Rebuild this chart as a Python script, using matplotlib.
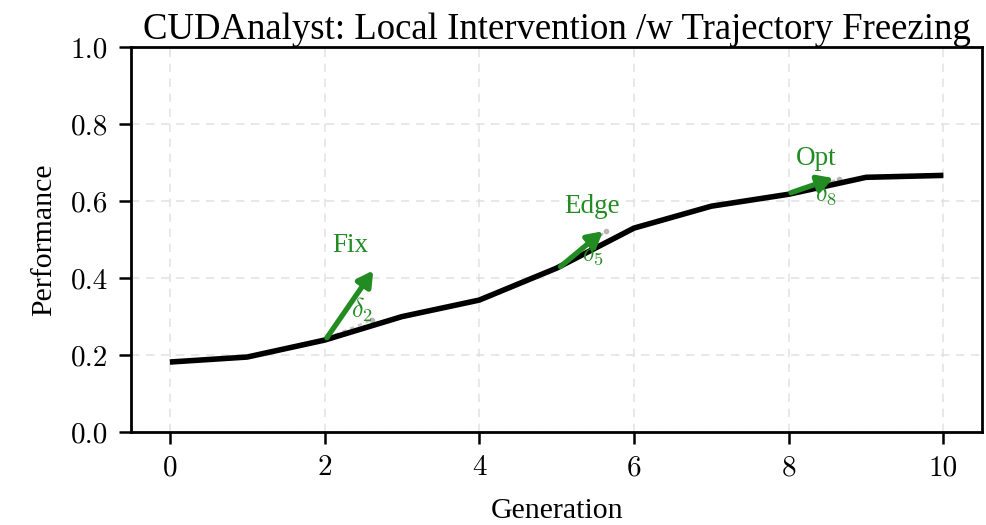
import matplotlib
matplotlib.use("Agg")
import matplotlib.pyplot as plt

# ---- data -----------------------------------------------------------------
generations = [0, 1, 2, 3, 4, 5, 6, 7, 8, 9, 10]
performance = [0.182, 0.195, 0.239, 0.300, 0.343, 0.426, 0.530, 0.587, 0.618, 0.662, 0.667]

# interventions: arrow start / tip, faint "frozen" end point
iv_names = ["Fix", "Edge", "Opt"]
iv_deltas = [r"$\delta_2$", r"$\delta_5$", r"$\delta_8$"]
iv_start_x = [2.03, 5.05, 8.03]
iv_start_y = [0.245, 0.430, 0.622]
iv_tip_x = [2.63, 5.60, 8.58]
iv_tip_y = [0.420, 0.522, 0.660]
iv_frozen_x = [2.62, 5.64, 8.65]
iv_frozen_y = [0.292, 0.522, 0.657]
# label positions (name above, delta beside the arrow)
iv_name_x = [2.34, 5.46, 8.36]
iv_name_y = [0.484, 0.585, 0.712]
iv_delta_x = [2.48, 5.47, 8.48]
iv_delta_y = [0.317, 0.466, 0.620]

xticks = [0, 2, 4, 6, 8, 10]
yticks = [0.0, 0.2, 0.4, 0.6, 0.8, 1.0]

GREEN = "#228B22"

plt.rcParams["font.family"] = ["Liberation Serif", "DejaVu Serif"]
plt.rcParams["mathtext.fontset"] = "cm"

fig = plt.figure(figsize=(9.86, 5.25), dpi=100)
ax = fig.add_axes([0.133, 0.177, 0.863, 0.733])

ax.plot(generations, performance, color="black", lw=4.0, zorder=3,
        solid_capstyle="butt")

for i in range(len(iv_names)):
    # faint frozen-trajectory segment under the arrow
    ax.plot([iv_start_x[i], iv_frozen_x[i]], [iv_start_y[i], iv_frozen_y[i]],
            color="#aaaaaa", lw=1.5, ls=(0, (2, 2)), alpha=0.7, zorder=2)
    ax.plot(iv_frozen_x[i], iv_frozen_y[i], "o", color="#aaaaaa", ms=3,
            alpha=0.8, zorder=2)
    ax.annotate("", xy=(iv_tip_x[i], iv_tip_y[i]),
                xytext=(iv_start_x[i], iv_start_y[i]),
                arrowprops=dict(arrowstyle="-|>,head_length=0.9,head_width=0.5",
                                color=GREEN, lw=3.8, shrinkA=0, shrinkB=0),
                zorder=4)
    ax.text(iv_name_x[i], iv_name_y[i], iv_names[i], color=GREEN,
            fontsize=19.5, ha="center", va="center", zorder=5)
    ax.text(iv_delta_x[i], iv_delta_y[i], iv_deltas[i], color=GREEN,
            fontsize=19, ha="center", va="center", zorder=5)

ax.set_xlim(-0.5, 10.5)
ax.set_ylim(0.0, 1.0)
ax.set_xticks(xticks)
ax.set_xticklabels([f"{v}" for v in xticks], fontfamily="cmr10")
ax.set_yticks(yticks)
ax.set_yticklabels([f"{v:.1f}" for v in yticks], fontfamily="cmr10")
ax.grid(True, color="#dddddd", ls=(0, (5, 4)), lw=1.2, alpha=0.8)
ax.set_axisbelow(True)

for s in ax.spines.values():
    s.set_linewidth(2.0)
ax.tick_params(axis="both", labelsize=21, length=8.5, width=1.8,
               direction="out", pad=8)

ax.set_xlabel("Generation", fontsize=21.5, labelpad=12)
ax.set_ylabel("Performance", fontsize=21.5, labelpad=10)
ax.set_title("CUDAnalyst: Local Intervention /w Trajectory Freezing",
             fontsize=26.5, pad=5)

fig.savefig("out.png", dpi=100, facecolor="white")
